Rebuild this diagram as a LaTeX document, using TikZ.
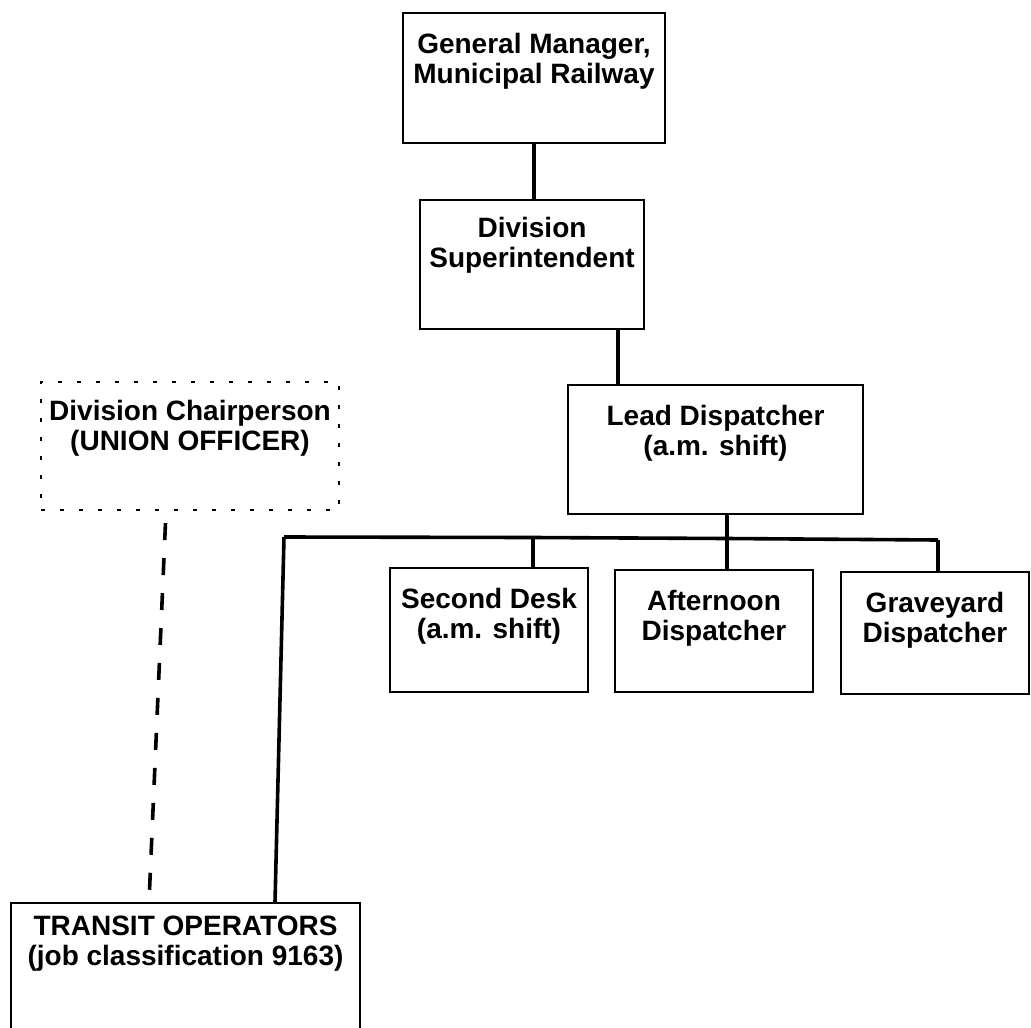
\documentclass[tikz,border=0pt]{standalone}
\usepackage{fontspec}
\setmainfont{Liberation Sans}
\newcommand{\bx}[4]{\parbox[c][#2][t]{#1}{\centering\rule{0pt}{#3}#4}}
\begin{document}
\begin{tikzpicture}[x=1pt,y=-1pt,
  every node/.style={font=\fontsize{28}{30}\selectfont\bfseries},
  box/.style={draw, line width=1.8pt, inner sep=0pt},
  dotbox/.style={draw, line width=2.2pt, inner sep=0pt, dash pattern=on 4pt off 15pt},
  conn/.style={line width=3.6pt, line join=round},
  dashconn/.style={line width=3.6pt, dash pattern=on 17pt off 18pt, dash phase=-12pt}]
\useasboundingbox (0,0) rectangle (1031,1028);

\node[box] (gm) at (534,78) {\bx{262pt}{130pt}{40pt}{General Manager,\\Municipal Railway}};
\node[box] (ds) at (532,264.5) {\bx{224pt}{129pt}{37pt}{Division\\Superintendent}};
\node[box] (lead) at (715.5,449.5) {\bx{295pt}{129pt}{40pt}{Lead Dispatcher\\(a.m. shift)}};
\node[dotbox] (chair) at (190,446) {\bx{298pt}{128pt}{38pt}{Division Chairperson\\(UNION OFFICER)}};
\node[box] (sd) at (489,630) {\bx{198pt}{124pt}{40pt}{Second Desk\\(a.m. shift)}};
\node[box] (af) at (714,631) {\bx{198pt}{122pt}{40pt}{Afternoon\\Dispatcher}};
\node[box] (gy) at (935,633) {\bx{188pt}{122pt}{40pt}{Graveyard\\Dispatcher}};
\node[box] (to) at (185.5,978) {\bx{349pt}{150pt}{32pt}{TRANSIT OPERATORS\\(job classification 9163)}};

\coordinate (bl) at (284,537);
\coordinate (j1) at (533,537.5);
\coordinate (j2) at (727,538.5);
\coordinate (j3) at (938,540);

\draw[conn] (gm.south) -- (gm.south |- ds.north);
\draw[conn] ([xshift=-27pt]ds.south east) -- ([xshift=-27pt]ds.south east |- lead.north);
\draw[conn] (lead.south -| j2) -- (j2) -- (af.north -| j2);
\draw[conn] (bl) -- (j1) -- (j2) -- (j3);
\draw[conn] (j1) -- (sd.north -| j1);
\draw[conn] (j3) -- (gy.north -| j3);
\draw[conn] (bl) -- ([xshift=89.5pt]to.north);
\draw[dashconn] ([xshift=-24pt]chair.south) -- ([xshift=-36.5pt]to.north);
\end{tikzpicture}
\end{document}
